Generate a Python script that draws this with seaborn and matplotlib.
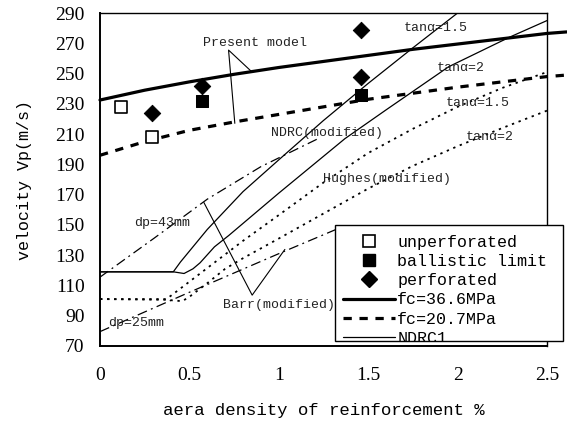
import matplotlib
matplotlib.use("Agg")
import matplotlib.pyplot as plt
from matplotlib.lines import Line2D
from matplotlib.patches import Rectangle
import seaborn as sns

# ---------------- data ----------------
# experimental points
unperf_x = [0.12, 0.29]
unperf_y = [228, 208]
ballistic_x = [0.57, 1.46]
ballistic_y = [232, 236]
perf_x = [0.29, 0.57, 1.46, 1.46]
perf_y = [224, 242, 279, 248]

# present model
model_x = [0, 0.25, 0.5, 0.75, 1.0, 1.25, 1.5, 1.75, 2.0, 2.25, 2.5, 2.61]
fc366_y = [232.5, 239, 244.5, 249.5, 254, 258, 262, 266, 269.5, 273, 276.5, 277.5]
fc207_y = [196, 205, 212.5, 218, 223, 228, 233, 237, 241, 244.5, 248, 249]

# NDRC (modified)
ndrc15_x = [0, 0.41, 0.45, 0.6, 0.8, 1.0, 1.25, 1.5, 1.75, 2.0, 2.05]
ndrc15_y = [119, 119, 125.5, 147, 172, 193, 219, 243.5, 267, 290, 294.5]
ndrc2_x = [0, 0.41, 0.47, 0.52, 0.56, 0.64, 0.72, 1.0, 1.37, 1.6, 1.95, 2.29, 2.5]
ndrc2_y = [119, 119, 117.9, 121, 125, 135.5, 143, 171, 207, 226, 254.5, 274, 285]

# Hughes (modified)
hughes15_x = [0, 0.37, 0.4, 0.6, 0.8, 1.0, 1.25, 1.5, 1.75, 2.0, 2.25, 2.5]
hughes15_y = [101, 101, 103.5, 121.5, 139.5, 156.5, 178, 197.5, 213.5, 228, 240.5, 251]
hughes2_x = [0, 0.37, 0.46, 0.5, 0.6, 0.7, 0.8, 1.0, 1.25, 1.5, 1.75, 2.0, 2.25, 2.5]
hughes2_y = [101, 100.5, 99.6, 102.5, 111.5, 121, 128, 141, 157.5, 174, 189, 202, 214, 225.5]

# Barr (modified)
barr43_x = [0, 0.3, 0.6, 0.9, 1.22]
barr43_y = [115.5, 141, 167, 188.5, 207]
barr25_x = [0, 0.5, 1.0, 1.32]
barr25_y = [79.5, 105.5, 131, 147]

# annotation pointers
present_ptr_x = [0.844, 0.719, 0.754]
present_ptr_y = [251.7, 265.5, 217.1]
barr_ptr_x = [0.581, 0.851, 1.034]
barr_ptr_y = [164.8, 103.6, 133.8]

x_ticks = [0, 0.5, 1, 1.5, 2, 2.5]
x_ticklabels = ["0", "0.5", "1", "1.5", "2", "2.5"]
y_ticks = list(range(70, 291, 20))

labels = [
    ("Present model", 0.866, 270.2),
    ("NDRC(modified)", 1.272, 210.5),
    ("Hughes(modified)", 1.606, 180.2),
    ("tanα=1.5", 1.88, 279.9),
    ("tanα=2", 2.017, 253.4),
    ("tanα=1.5", 2.113, 230.7),
    ("tanα=2", 2.179, 208.2),
    ("dp=43mm", 0.345, 151.4),
    ("dp=25mm", 0.2, 85.2),
    ("Barr(modified)", 1.003, 97.0),
]

legend_labels = ["unperforated", "ballistic limit", "perforated",
                 "fc=36.6MPa", "fc=20.7MPa", "NDRC1"]

# ---------------- style ----------------
sns.set_theme(style="white")
plt.rcParams["font.family"] = ["Liberation Mono", "DejaVu Sans"]
plt.rcParams["text.color"] = "black"
plt.rcParams["axes.labelcolor"] = "black"

W, H = 567, 423
fig = plt.figure(figsize=(W / 100, H / 100), dpi=100)
ax = fig.add_axes([100 / W, 1 - 346 / H, 447 / W, 333 / H])

K = "black"
thin = 0.9
thick = 2.3
dotted = (0, (1.3, 2.6))
dashdot = (0, (8, 3.5, 1.5, 3.5))
thickdash = (0, (2.6, 2.4))

# present model lines (extend past the right spine as in the original)
sns.lineplot(x=model_x, y=fc366_y, ax=ax, color=K, linewidth=thick, sort=False)
sns.lineplot(x=model_x, y=fc207_y, ax=ax, color=K, linewidth=thick,
             linestyle=thickdash, sort=False)
for ln in ax.lines[:2]:
    ln.set_clip_on(False)

# NDRC
sns.lineplot(x=ndrc15_x, y=ndrc15_y, ax=ax, color=K, linewidth=thin, sort=False)
sns.lineplot(x=ndrc2_x, y=ndrc2_y, ax=ax, color=K, linewidth=thin, sort=False)
# Hughes
sns.lineplot(x=hughes15_x, y=hughes15_y, ax=ax, color=K, linewidth=1.3,
             linestyle=dotted, sort=False)
sns.lineplot(x=hughes2_x, y=hughes2_y, ax=ax, color=K, linewidth=1.3,
             linestyle=dotted, sort=False)
# Barr
sns.lineplot(x=barr43_x, y=barr43_y, ax=ax, color=K, linewidth=thin,
             linestyle=dashdot, sort=False)
sns.lineplot(x=barr25_x, y=barr25_y, ax=ax, color=K, linewidth=thin,
             linestyle=dashdot, sort=False)

# pointers
ax.plot(present_ptr_x, present_ptr_y, color=K, linewidth=0.8)
ax.plot(barr_ptr_x, barr_ptr_y, color=K, linewidth=0.8)

# experimental markers
sns.scatterplot(x=unperf_x, y=unperf_y, ax=ax, marker="s", s=85,
                facecolor="white", edgecolor=K, linewidth=1.2, zorder=5)
sns.scatterplot(x=ballistic_x, y=ballistic_y, ax=ax, marker="s", s=85,
                color=K, edgecolor=K, zorder=5)
sns.scatterplot(x=perf_x, y=perf_y, ax=ax, marker="D", s=70,
                color=K, edgecolor=K, zorder=5)

for txt, tx, ty in labels:
    ax.text(tx, ty, txt, fontsize=9.5, ha="center", va="center", color="#222222")

# axes
ax.set_xlim(0, 2.5)
ax.set_ylim(70, 290)
ax.set_xticks(x_ticks)
ax.set_xticklabels(x_ticklabels)
ax.set_yticks(y_ticks)
ax.tick_params(axis="both", direction="in", length=6, width=1, colors=K,
               labelsize=14)
ax.tick_params(axis="x", pad=15)
ax.tick_params(axis="y", pad=11)
for lab in ax.get_xticklabels() + ax.get_yticklabels():
    lab.set_family(["Liberation Serif", "DejaVu Serif"])
for side in ["left", "bottom"]:
    ax.spines[side].set_linewidth(1.4)
for side in ["top", "right"]:
    ax.spines[side].set_linewidth(1.0)
for sp in ax.spines.values():
    sp.set_color(K)
    sp.set_visible(True)

ax.set_xlabel("aera density of reinforcement %", fontsize=12.5, labelpad=14)
ax.set_ylabel("velocity Vp(m/s)", fontsize=12)
ax.yaxis.set_label_coords(-0.152, 0.5)

# legend, clipped by a box that is too small (as in the original)
box = Rectangle((335 / W, 1 - 341 / H), (563 - 335) / W, (341 - 225) / H,
                transform=fig.transFigure, facecolor="white", edgecolor=K,
                linewidth=1.0, zorder=4)
fig.add_artist(box)

handles = [
    Line2D([], [], linestyle="none", marker="s", markersize=9,
           markerfacecolor="white", markeredgecolor=K, markeredgewidth=1.2),
    Line2D([], [], linestyle="none", marker="s", markersize=9,
           markerfacecolor=K, markeredgecolor=K),
    Line2D([], [], linestyle="none", marker="D", markersize=8,
           markerfacecolor=K, markeredgecolor=K),
    Line2D([], [], color=K, linewidth=thick),
    Line2D([], [], color=K, linewidth=thick, linestyle=thickdash),
    Line2D([], [], color=K, linewidth=thin),
]
leg = fig.legend(handles, legend_labels, loc="upper left",
                 bbox_to_anchor=(343 / W, 1 - 234.5 / H), frameon=False,
                 fontsize=12, handlelength=3.1, handletextpad=0.15,
                 labelspacing=0.26, borderpad=0, borderaxespad=0)
leg.set_zorder(5)
for t in leg.get_texts():
    t.set_clip_path(box)
for h in leg.legend_handles:
    h.set_clip_path(box)

fig.savefig("out.png", dpi=100)
